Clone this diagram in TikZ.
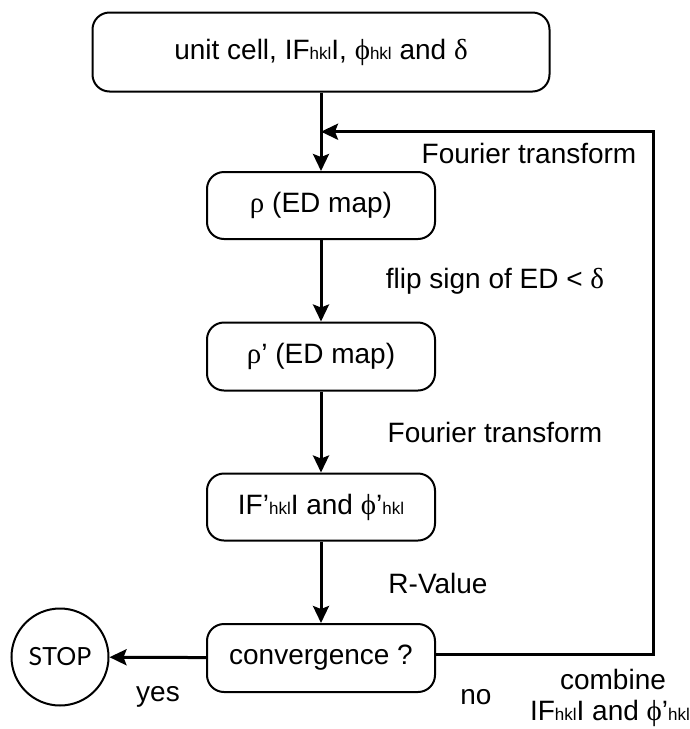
\documentclass[tikz,border=0pt]{standalone}
\usepackage{fontspec}
\setmainfont{Liberation Sans}
\newfontfamily\stopfont{Lato}
\newfontfamily\grkfont{Liberation Serif}
\usetikzlibrary{arrows.meta}
\newcommand{\hklsub}{{\fontsize{17}{17}\selectfont hkl}}
\newcommand{\gk}[1]{{\grkfont\fontsize{29}{30}\selectfont #1}}
\begin{document}
\begin{tikzpicture}[x=1pt,y=-1pt,
  box/.style={draw,line width=2pt,rounded corners=17pt,inner sep=0pt,font=\fontsize{28}{32}\selectfont},
  lbl/.style={font=\fontsize{28}{32}\selectfont,inner sep=0pt},
  conn/.style={line width=3pt,-{Stealth[length=17pt,width=16pt,inset=3pt]}}]
\useasboundingbox (0,0) rectangle (689,729);
\node[box,minimum width=457pt,minimum height=79pt] (top) at (321,52) {unit cell, IF\hklsub I, \gk{ϕ}\hklsub{} and \gk{δ}};
\node[box,minimum width=228pt,minimum height=67pt] (rho) at (321,205.5) {\gk{ρ} (ED map)};
\node[box,minimum width=228pt,minimum height=68pt] (rhop) at (321,356.5) {\gk{ρ}’ (ED map)};
\node[box,minimum width=228pt,minimum height=67pt] (fp) at (321,507) {IF’\hklsub I and \gk{ϕ}’\hklsub};
\node[box,minimum width=228pt,minimum height=68pt] (conv) at (321,658) {convergence ?};
\node[draw,circle,line width=2pt,minimum size=97pt,inner sep=0pt,font=\stopfont\fontsize{25}{28}\selectfont] (stop) at (60,657) {STOP};
\coordinate (j) at (321,131.7);
\coordinate (c1) at (653,654);
\coordinate (c2) at (653,131.7);
\draw[conn] (top) -- (rho);
\draw[conn] (rho) -- (rhop);
\draw[conn] (rhop) -- (fp);
\draw[conn] (fp) -- (conv);
\draw[conn] (conv) -- (stop);
\draw[conn] (conv.east |- c1) -- (c1) -- (c2) -- (j);
\node[lbl] (l1) at (529,153) {Fourier transform};
\node[lbl] (l2) at (495,281) {flip sign of ED < \gk{δ}};
\node[lbl] (l3) at (495,432) {Fourier transform};
\node[lbl] (l4) at (438,583) {R-Value};
\node[lbl] (l5) at (158,697) {yes};
\node[lbl] (l6) at (476,697) {no};
\node[lbl] (l7) at (613,679) {combine};
\node[lbl] (l8) at (610,713) {IF\hklsub I and \gk{ϕ}’\hklsub};
\end{tikzpicture}
\end{document}
